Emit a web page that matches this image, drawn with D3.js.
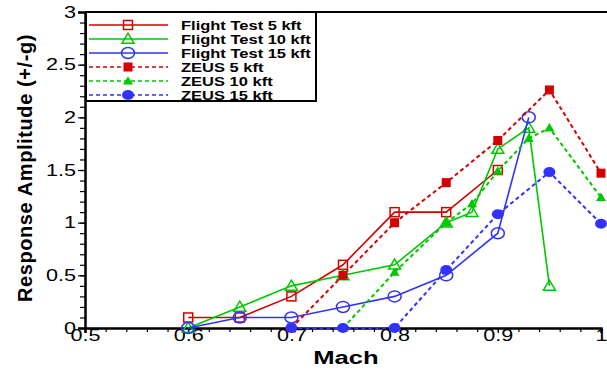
<!DOCTYPE html>
<html>
<head>
<meta charset="utf-8">
<script src="https://d3js.org/d3.v7.min.js"></script>
<style>
    body { margin: 0; background: #fff; font-family: Arial, "Liberation Sans", sans-serif; }
</style>
</head>
<body>
<svg id="chart" width="607" height="372"></svg>
<script>
    // data (Mach vs response amplitude, +/-g)
    let ft5Mach  = [0.6, 0.65, 0.7, 0.75, 0.8, 0.85, 0.9]
    let ft5Amp   = [0.1, 0.1, 0.3, 0.6, 1.1, 1.1, 1.5]
    let ft10Mach = [0.6, 0.65, 0.7, 0.75, 0.8, 0.85, 0.875, 0.9, 0.93, 0.95]
    let ft10Amp  = [0, 0.2, 0.4, 0.5, 0.6, 1.0, 1.1, 1.7, 1.9, 0.4]
    let ft15Mach = [0.6, 0.65, 0.7, 0.75, 0.8, 0.85, 0.9, 0.93]
    let ft15Amp  = [0, 0.1, 0.1, 0.2, 0.3, 0.5, 0.9, 2.0]
    let z5Mach   = [0.7, 0.75, 0.8, 0.85, 0.9, 0.95, 1.0]
    let z5Amp    = [0, 0.5, 1.0, 1.38, 1.78, 2.26, 1.47]
    let z10Mach  = [0.75, 0.8, 0.85, 0.875, 0.9, 0.93, 0.95, 1.0]
    let z10Amp   = [0, 0.53, 1.0, 1.18, 1.49, 1.8, 1.9, 1.24]
    let z15Mach  = [0.7, 0.75, 0.8, 0.85, 0.9, 0.95, 1.0]
    let z15Amp   = [0, 0, 0, 0.55, 1.08, 1.48, 0.99]

    let xTicks = [0.5, 0.6, 0.7, 0.8, 0.9, 1.0]
    let yTicks = [0, 0.5, 1, 1.5, 2, 2.5, 3]

    let red = "#d40000", green = "#00c800", blue = "#3232ff"

    let series = [
        {name: "Flight Test 5 kft",  xs: ft5Mach,  ys: ft5Amp,  color: red,   dash: null, shape: "square",   fill: false},
        {name: "Flight Test 10 kft", xs: ft10Mach, ys: ft10Amp, color: green, dash: null, shape: "triangle", fill: false},
        {name: "Flight Test 15 kft", xs: ft15Mach, ys: ft15Amp, color: blue,  dash: null, shape: "circle",   fill: false},
        {name: "ZEUS 5 kft",  xs: z5Mach,  ys: z5Amp,  color: red,   dash: "4,3", shape: "square",   fill: true},
        {name: "ZEUS 10 kft", xs: z10Mach, ys: z10Amp, color: green, dash: "4,3", shape: "triangle", fill: true},
        {name: "ZEUS 15 kft", xs: z15Mach, ys: z15Amp, color: blue,  dash: "4,3", shape: "circle",   fill: true}
    ]

    // the original picture is stretched sideways, so text is widened too
    let sx = 1.35

    let svg = d3.select("#chart")

    let x = d3.scaleLinear().domain([0.5, 1.0]).range([85, 601])
    let y = d3.scaleLinear().domain([0, 3]).range([328, 12])

    // frame top line
    svg.append("line")
        .attr("x1", x(0.5)).attr("x2", 607)
        .attr("y1", y(3)).attr("y2", y(3))
        .attr("stroke", "#000").attr("stroke-width", 2)

    // minor ticks
    svg.append("g")
        .attr("transform", `translate(${x(0.5)},0)`)
        .call(d3.axisLeft(y).tickValues(d3.range(0, 3.001, 0.1)).tickSize(5).tickFormat(""))
        .call(g => g.select(".domain").remove())
    svg.append("g")
        .attr("transform", `translate(0,${y(0)})`)
        .call(d3.axisBottom(x).tickValues(d3.range(0.5, 1.001, 0.02)).tickSize(4).tickFormat(""))
        .call(g => g.select(".domain").remove())

    // major axes
    let yAxis = svg.append("g")
        .attr("transform", `translate(${x(0.5)},0)`)
        .call(d3.axisLeft(y).tickValues(yTicks).tickSize(7).tickPadding(2).tickFormat(d3.format("")))
    let xAxis = svg.append("g")
        .attr("transform", `translate(0,${y(0)})`)
        .call(d3.axisBottom(x).tickValues(xTicks).tickSize(5).tickPadding(-3).tickFormat(d3.format("")))

    for (let ax of [xAxis, yAxis]) {
        ax.select(".domain").attr("stroke-width", 2.5)
        ax.selectAll("text").style("font-family", "Arial, 'Liberation Sans', sans-serif")
            .style("font-size", "16px").attr("fill", "#000")
            .attr("x", function() { return +d3.select(this).attr("x") / sx })
            .attr("transform", `scale(${sx},1)`)
    }
    svg.selectAll(".tick line").attr("stroke", "#000").attr("stroke-width", 1.2)

    // axis titles
    svg.append("text")
        .attr("transform", `translate(346,364) scale(${sx},1)`)
        .attr("text-anchor", "middle")
        .style("font-size", "19px").style("font-weight", "bold")
        .text("Mach")
    svg.append("text")
        .attr("transform", "translate(32,168) rotate(-90)")
        .attr("text-anchor", "middle")
        .style("font-size", "20px").style("font-weight", "bold")
        .style("letter-spacing", "0.6px")
        .text("Response Amplitude (+/-g)")

    function marker(g, shape, cx, cy, color, fill) {
        if (shape == "square") {
            let s = 9
            g.append("rect")
                .attr("x", cx - s / 2).attr("y", cy - s / 2)
                .attr("width", s).attr("height", s)
                .attr("fill", fill ? color : "none")
                .attr("stroke", color).attr("stroke-width", fill ? 0 : 1.5)
        } else if (shape == "triangle") {
            let s = fill ? 10 : 12
            let h = s * 0.8
            g.append("path")
                .attr("d", `M${cx},${cy - h * 0.6}L${cx + s / 2},${cy + h * 0.45}L${cx - s / 2},${cy + h * 0.45}Z`)
                .attr("fill", fill ? color : "none")
                .attr("stroke", color).attr("stroke-width", fill ? 0 : 1.5)
        } else {
            g.append("ellipse")
                .attr("cx", cx).attr("cy", cy)
                .attr("rx", fill ? 6 : 6.5).attr("ry", fill ? 5 : 5.5)
                .attr("fill", fill ? color : "none")
                .attr("stroke", color).attr("stroke-width", fill ? 0 : 1.5)
        }
    }

    let line = d3.line().x(d => x(d[0])).y(d => y(d[1]))

    series.forEach(s => {
        let pts = s.xs.map((m, i) => [m, s.ys[i]])
        let g = svg.append("g")
        g.append("path")
            .attr("d", line(pts))
            .attr("fill", "none")
            .attr("stroke", s.color)
            .attr("stroke-width", s.dash ? 2 : 1.6)
            .attr("stroke-dasharray", s.dash)
        pts.forEach(p => marker(g, s.shape, x(p[0]), y(p[1]), s.color, s.fill))
    })

    // legend
    let lg = svg.append("g")
    lg.append("rect")
        .attr("x", 86).attr("y", 12).attr("width", 230).attr("height", 89)
        .attr("fill", "#fff").attr("stroke", "#000").attr("stroke-width", 2)
    series.forEach((s, i) => {
        let ly = 25 + i * 14
        lg.append("line")
            .attr("x1", 89).attr("x2", 168).attr("y1", ly).attr("y2", ly)
            .attr("stroke", s.color).attr("stroke-width", s.dash ? 1.6 : 1.4)
            .attr("stroke-dasharray", s.dash)
        marker(lg, s.shape, 128, ly, s.color, s.fill)
        lg.append("text")
            .attr("transform", `translate(181,${ly + 4.5}) scale(1.32,1)`)
            .style("font-size", "12.5px").style("font-weight", "bold")
            .text(s.name)
    })
</script>
</body>
</html>
